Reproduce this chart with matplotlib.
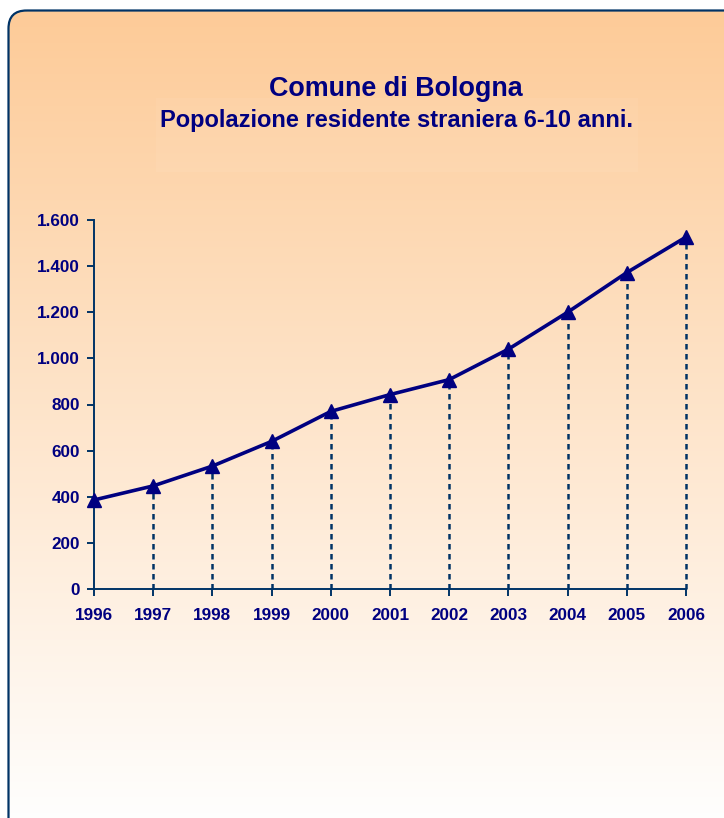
import matplotlib.pyplot as plt
import numpy as np
from matplotlib.patches import FancyBboxPatch, Rectangle

# data
anni = [1996, 1997, 1998, 1999, 2000, 2001, 2002, 2003, 2004, 2005, 2006]
residenti = [386, 447, 533, 640, 770, 843, 908, 1040, 1200, 1372, 1526]
y_ticks = [0, 200, 400, 600, 800, 1000, 1200, 1400, 1600]
y_labels = ['0', '200', '400', '600', '800', '1.000', '1.200', '1.400', '1.600']

titolo = 'Comune di Bologna'
sottotitolo = 'Popolazione residente straniera 6-10 anni.'

navy = '#000080'
bordo = '#003366'
plt.rcParams['font.family'] = ['Liberation Sans', 'DejaVu Sans']

W, H = 724, 818
fig = plt.figure(figsize=(W / 100, H / 100), dpi=100)
fig.patch.set_facecolor('white')

# background: rounded box with vertical gradient (pixel coordinates)
bg = fig.add_axes([0, 0, 1, 1])
bg.axis('off')
box = FancyBboxPatch((8.5, 10.5), 800, 900, boxstyle='round,pad=0,rounding_size=18',
                     facecolor='none', edgecolor=bordo, linewidth=1.6, zorder=3)
bg.add_patch(box)
top = np.array([253, 203, 152]) / 255
bot = np.array([255, 255, 255]) / 255
t = np.linspace(0, 1, 400)[:, None]
grad = (top[None, :] * (1 - t) + bot[None, :] * t)[:, None, :]
im = bg.imshow(grad, extent=(0, W, 830, 10), aspect='auto', zorder=1, origin='upper')
im.set_clip_path(box)
bg.set_xlim(0, W)
bg.set_ylim(H, 0)
bg.add_patch(Rectangle((156, 98), 482, 74, facecolor='white', alpha=0.05,
                       edgecolor='none', zorder=2))
bg.text(396, 89, titolo, ha='center', va='center', fontsize=19.4,
        fontweight='bold', color=navy, zorder=4)
bg.text(397, 120, sottotitolo, ha='center', va='center', fontsize=17,
        fontweight='bold', color=navy, zorder=4)

# chart
ax = fig.add_axes([94 / W, (H - 589) / H, (686 - 94) / W, (589 - 220) / H])
ax.patch.set_alpha(0)
ax.set_xlim(anni[0], anni[-1])
ax.set_ylim(0, 1600)

ax.vlines(anni[1:], 0, residenti[1:], colors=bordo, linestyles=(0, (2.2, 1.8)),
          linewidth=1.8, zorder=2, clip_on=False)
ax.plot(anni, residenti, color=navy, linewidth=2.6, marker='^', markersize=9.5,
        clip_on=False, zorder=3)

for s in ['top', 'right']:
    ax.spines[s].set_visible(False)
for s in ['left', 'bottom']:
    ax.spines[s].set_color(bordo)
    ax.spines[s].set_linewidth(1.4)

ax.set_xticks(anni)
ax.set_xticklabels([str(a) for a in anni])
ax.set_yticks(y_ticks)
ax.set_yticklabels(y_labels)
ax.tick_params(axis='both', direction='out', length=5, width=1.4, color=bordo,
               labelcolor=navy, labelsize=12.3)
ax.tick_params(axis='x', pad=9)
ax.tick_params(axis='y', pad=5)
for lab in ax.get_xticklabels() + ax.get_yticklabels():
    lab.set_fontweight('bold')

fig.savefig('out.png', dpi=100)
